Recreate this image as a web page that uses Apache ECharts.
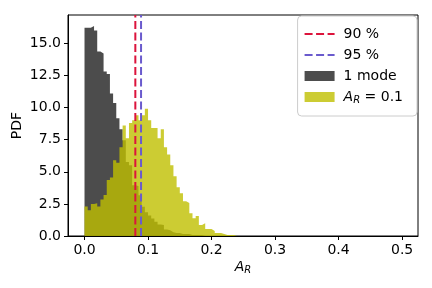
<!DOCTYPE html>
<html><head><meta charset="utf-8">
<script src="https://cdn.jsdelivr.net/npm/echarts@6/dist/echarts.min.js"></script>
<style>html,body{margin:0;padding:0;background:#fff}#c{width:432px;height:288px}</style>
</head><body><div id="c"></div>
<script>
const binWidth = 0.005;
const modeOnePdf = [16.2,16.2,16.35,16.0,14.35,14.2,12.8,12.6,11.1,10.35,9.17,8.3,7.45,5.75,5.5,3.95,3.9,3.17,2.27,1.85,1.6,1.37,1.1,0.9,0.85,0.5,0.45,0.3,0.23,0.23,0.15,0.15,0.15,0.08,0.08,0.08,0.08,0.08];
const arPdf = [2.3,2.0,2.5,2.55,2.3,2.85,3.2,4.35,4.55,5.9,5.7,6.9,8.6,7.6,8.8,9.0,9.4,9.0,9.4,9.9,9.0,8.4,8.4,7.6,8.3,6.9,6.35,5.5,4.65,3.8,3.33,2.71,2.56,1.78,1.39,1.55,0.85,1.0,0.54,0.54,0.39,0.23,0.23,0.15,0.08,0.08,0.08,0,0,0.08];
const lineNames = ['90 %', '95 %'];
const lineValues = [0.08, 0.089];
const lineColors = ['#dc143c', '#6a5acd'];
const histNames = ['1 mode', 'A_R = 0.1'];
const xTicks = [0, 0.1, 0.2, 0.3, 0.4, 0.5];
const xTickLabels = ['0.0', '0.1', '0.2', '0.3', '0.4', '0.5'];
const yTicks = [0, 2.5, 5, 7.5, 10, 12.5, 15];
const yTickLabels = ['0.0', '2.5', '5.0', '7.5', '10.0', '12.5', '15.0'];
const xMin = -0.026, xMax = 0.525, yMin = 0, yMax = 17.2;

function stepData(vals) {
  const pts = vals.map((v, i) => [i * binWidth, v]);
  pts.push([vals.length * binWidth, 0]);
  return pts;
}
const FONT = 'DejaVu Sans';
const chart = echarts.init(document.getElementById('c'), null, {renderer: 'canvas'});
const richSub = {
  i: {fontFamily: FONT, fontStyle: 'italic', fontSize: 14, color: '#000'},
  s: {fontFamily: FONT, fontStyle: 'italic', fontSize: 10, color: '#000', padding: [6, 0, 0, 0]},
  n: {fontFamily: FONT, fontSize: 14, color: '#000'}
};
const series = [
  {
    name: histNames[0], type: 'line', step: 'end', data: stepData(modeOnePdf),
    showSymbol: false, symbol: 'none', color: '#4d4d4d',
    lineStyle: {width: 0, opacity: 0},
    areaStyle: {color: '#000', opacity: 0.7}, z: 2, silent: true, animation: false
  },
  {
    name: histNames[1], type: 'line', step: 'end', data: stepData(arPdf),
    showSymbol: false, symbol: 'none', color: '#cccc33',
    lineStyle: {width: 0, opacity: 0},
    areaStyle: {color: 'rgb(191,191,0)', opacity: 0.8}, z: 3, silent: true, animation: false
  }
];
lineNames.forEach((n, k) => {
  series.push({
    name: n, type: 'line', data: [[lineValues[k], yMin], [lineValues[k], yMax]],
    showSymbol: false, symbol: 'none', color: lineColors[k],
    lineStyle: {width: 2, type: [8, 3.5], color: lineColors[k]}, z: 5, animation: false
  });
});
chart.setOption({
  animation: false,
  backgroundColor: '#fff',
  grid: {left: 68, right: 14, top: 15, bottom: 52, show: true, borderColor: '#000', borderWidth: 1,
    backgroundColor: 'transparent', containLabel: false, outerBoundsMode: 'none'},
  xAxis: {
    type: 'value', min: xMin, max: xMax,
    name: '{i|A}{s|R}', nameLocation: 'middle', nameGap: 23, nameMoveOverlap: false,
    nameTextStyle: {rich: richSub},
    axisLine: {show: true, onZero: false, lineStyle: {color: '#000', width: 1}},
    axisTick: {show: true, length: 4, lineStyle: {color: '#000'}, customValues: xTicks},
    axisLabel: {show: true, margin: 7, color: '#000', fontFamily: FONT, fontSize: 14, customValues: xTicks,
      formatter: v => xTickLabels[xTicks.findIndex(t => Math.abs(t - v) < 1e-9)]},
    splitLine: {show: false}
  },
  yAxis: {
    type: 'value', min: yMin, max: yMax,
    name: 'PDF', nameLocation: 'middle', nameGap: 44, nameRotate: 90, nameMoveOverlap: false,
    nameTextStyle: {color: '#000', fontFamily: FONT, fontSize: 14},
    axisLine: {show: true, onZero: false, lineStyle: {color: '#000', width: 1}},
    axisTick: {show: true, length: 4, lineStyle: {color: '#000'}, customValues: yTicks},
    axisLabel: {show: true, margin: 7, color: '#000', fontFamily: FONT, fontSize: 14, customValues: yTicks,
      formatter: v => yTickLabels[yTicks.findIndex(t => Math.abs(t - v) < 1e-9)]},
    splitLine: {show: false}
  },
  legend: {
    orient: 'vertical', right: 15, top: 16,
    padding: [11, 14, 11, 6], itemGap: 7, itemWidth: 30, itemHeight: 10,
    borderColor: '#cccccc', borderWidth: 1, borderRadius: 4, backgroundColor: '#fff',
    textStyle: {fontFamily: FONT, fontSize: 14, color: '#000', padding: [0, 0, 0, 4], rich: richSub},
    formatter: name => name === histNames[1] ? '{i|A}{s|R}{n| = 0.1}' : name,
    data: [
      {name: lineNames[0], itemStyle: {opacity: 0}},
      {name: lineNames[1], itemStyle: {opacity: 0}},
      {name: histNames[0], icon: 'rect', itemStyle: {color: '#4d4d4d'}},
      {name: histNames[1], icon: 'rect', itemStyle: {color: '#cccc33'}}
    ],
    selectedMode: false
  },
  series: series
});
</script></body></html>
